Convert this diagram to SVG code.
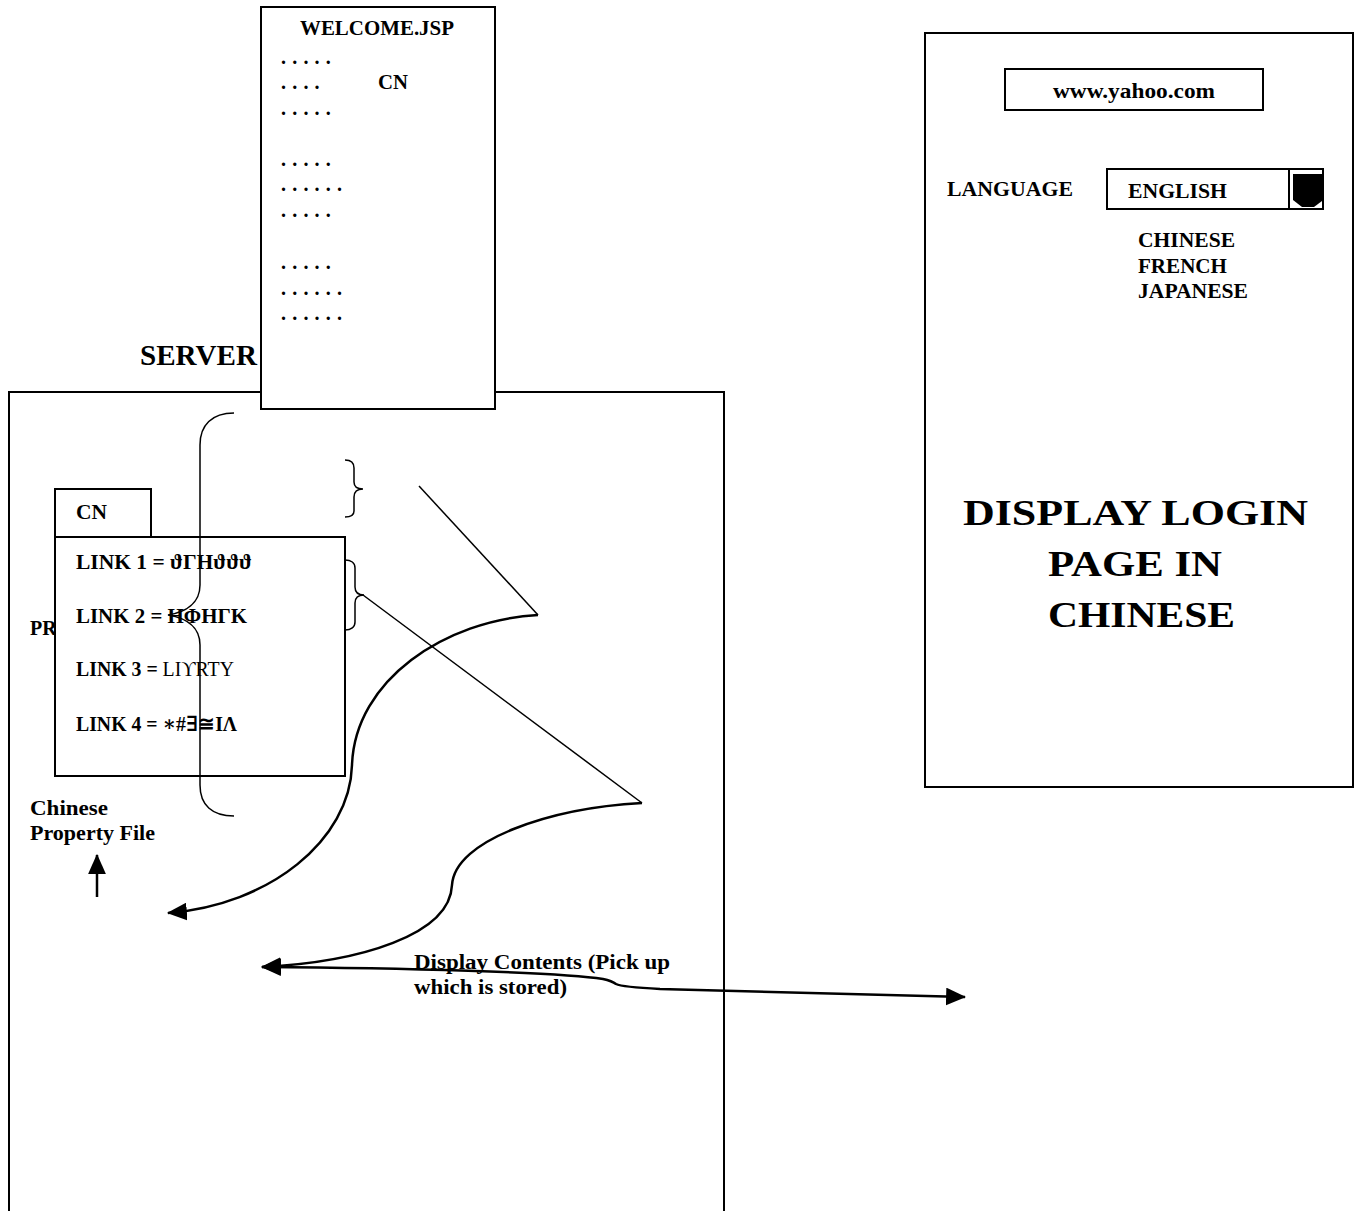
<svg xmlns="http://www.w3.org/2000/svg" width="1361" height="1211" viewBox="0 0 1361 1211">
<style>
text{font-family:"Liberation Serif","DejaVu Serif",serif;font-weight:bold;fill:#000}
.box{fill:#fff;stroke:#000;stroke-width:2}
.thin{fill:none;stroke:#000;stroke-width:1.5}
.curve{fill:none;stroke:#000;stroke-width:2.5}
.lbl{font-size:20px}
.link{font-size:21px}
.dots{font-size:20px;letter-spacing:0.6px}
.sym{font-weight:normal}
</style>
<defs>
<marker id="ah" markerUnits="userSpaceOnUse" markerWidth="20" markerHeight="18" viewBox="0 0 18 16" refX="17" refY="8" orient="auto-start-reverse">
<path d="M0,0 L18,8 L0,16 z" fill="#000"/>
</marker>
</defs>

<g id="server">
<path d="M9,1215 V392 H724 V1215" class="thin" style="stroke-width:2"/>
<text x="140" y="365" style="font-size:29px" textLength="117" lengthAdjust="spacingAndGlyphs">SERVER</text>
</g>

<g id="welcome-jsp">
<rect x="261" y="7" width="234" height="402" class="box"/>
<text x="300" y="35" class="lbl" textLength="154" lengthAdjust="spacingAndGlyphs">WELCOME.JSP</text>
<text x="378" y="89" class="lbl" textLength="30" lengthAdjust="spacingAndGlyphs">CN</text>
<text x="281" y="64" class="dots">. . . . .</text>
<text x="281" y="89" class="dots">. . . .</text>
<text x="281" y="115" class="dots">. . . . .</text>
<text x="281" y="166" class="dots">. . . . .</text>
<text x="281" y="191" class="dots">. . . . . .</text>
<text x="281" y="217" class="dots">. . . . .</text>
<text x="281" y="269" class="dots">. . . . .</text>
<text x="281" y="295" class="dots">. . . . . .</text>
<text x="281" y="320" class="dots">. . . . . .</text>
</g>

<g id="pr-label">
<text x="30" y="635" class="lbl">PR</text>
</g>

<g id="cn-property">
<rect x="55" y="489" width="96" height="48" class="box"/>
<text x="76" y="519" class="lbl" textLength="31" lengthAdjust="spacingAndGlyphs">CN</text>
<rect x="55" y="537" width="290" height="239" class="box"/>
<text x="76" y="569" class="link" textLength="176" lengthAdjust="spacingAndGlyphs">LINK 1 = <tspan>ϑΓΗϑϑϑ</tspan></text>
<text x="76" y="623" class="link" textLength="171" lengthAdjust="spacingAndGlyphs">LINK 2 = <tspan>ΗΦΗΓΚ</tspan></text>
<text x="76" y="676" class="link" textLength="158" lengthAdjust="spacingAndGlyphs">LINK 3 = <tspan class="sym">LIϒRTY</tspan></text>
<text x="76" y="731" class="link" textLength="161" lengthAdjust="spacingAndGlyphs">LINK 4 = <tspan>∗#∃≅ΙΛ</tspan></text>
</g>

<g id="chinese-property-file">
<text x="30" y="815" class="lbl" textLength="78" lengthAdjust="spacingAndGlyphs">Chinese</text>
<text x="30" y="840" class="lbl" textLength="125" lengthAdjust="spacingAndGlyphs">Property File</text>
</g>

<g id="braces">
<path class="thin" d="M234,413 C212,413 200,425 200,445 L200,585 C200,603 186,612 168,615 C186,618 200,627 200,645 L200,785 C200,805 212,816 234,816"/>
<path class="thin" d="M345,460 C351,460 354,463 354,468 L354,482 C354,487 357,489 363,489 C357,489 354,492 354,497 L354,511 C354,515 351,517 345,517"/>
<path class="thin" d="M345,560 C351,560 355,563 355,568 L355,587 C355,592 358,595 364,595 C358,595 355,598 355,603 L355,622 C355,627 351,630 345,630"/>
</g>

<g id="connectors">
<line x1="419" y1="486" x2="538" y2="615" class="thin"/>
<line x1="363" y1="595" x2="642" y2="803" class="thin"/>
<path class="curve" d="M538,615 C445,620 355,680 352,765 C350,840 270,905 168,913" marker-end="url(#ah)"/>
<path class="curve" d="M642,803 C550,808 455,840 452,885 C450,935 360,962 262,967" marker-end="url(#ah)"/>
<path class="curve" d="M262,967 C400,968 560,972 603,979 Q612,981 616,984 Q622,987 660,989 L965,997" marker-start="url(#ah)" marker-end="url(#ah)"/>
<line x1="97" y1="897" x2="97" y2="855" class="curve" marker-end="url(#ah)"/>
</g>

<g id="display-contents-label">
<text x="414" y="969" class="lbl" textLength="256" lengthAdjust="spacingAndGlyphs">Display Contents (Pick up</text>
<text x="414" y="994" class="lbl" textLength="153" lengthAdjust="spacingAndGlyphs">which is stored)</text>
</g>

<g id="browser">
<rect x="925" y="33" width="428" height="754" class="box"/>
<rect x="1005" y="69" width="258" height="41" class="box"/>
<text x="1053" y="98" class="lbl" textLength="162" lengthAdjust="spacingAndGlyphs">www.yahoo.com</text>
<text x="947" y="196" class="lbl" textLength="126" lengthAdjust="spacingAndGlyphs">LANGUAGE</text>
<rect x="1107" y="169" width="216" height="40" class="box"/>
<line x1="1289" y1="169" x2="1289" y2="209" class="thin" style="stroke-width:2"/>
<polygon points="1293,174 1322,174 1322,201 1314,207 1302,207 1293,200" fill="#000"/>
<text x="1128" y="198" class="lbl" textLength="99" lengthAdjust="spacingAndGlyphs">ENGLISH</text>
<text x="1138" y="247" class="lbl" textLength="97" lengthAdjust="spacingAndGlyphs">CHINESE</text>
<text x="1138" y="273" class="lbl" textLength="89" lengthAdjust="spacingAndGlyphs">FRENCH</text>
<text x="1138" y="298" class="lbl" textLength="110" lengthAdjust="spacingAndGlyphs">JAPANESE</text>
<text x="963" y="525" style="font-size:36px" textLength="345" lengthAdjust="spacingAndGlyphs">DISPLAY LOGIN</text>
<text x="1048" y="576" style="font-size:36px" textLength="174" lengthAdjust="spacingAndGlyphs">PAGE IN</text>
<text x="1048" y="627" style="font-size:36px" textLength="187" lengthAdjust="spacingAndGlyphs">CHINESE</text>
</g>
</svg>
